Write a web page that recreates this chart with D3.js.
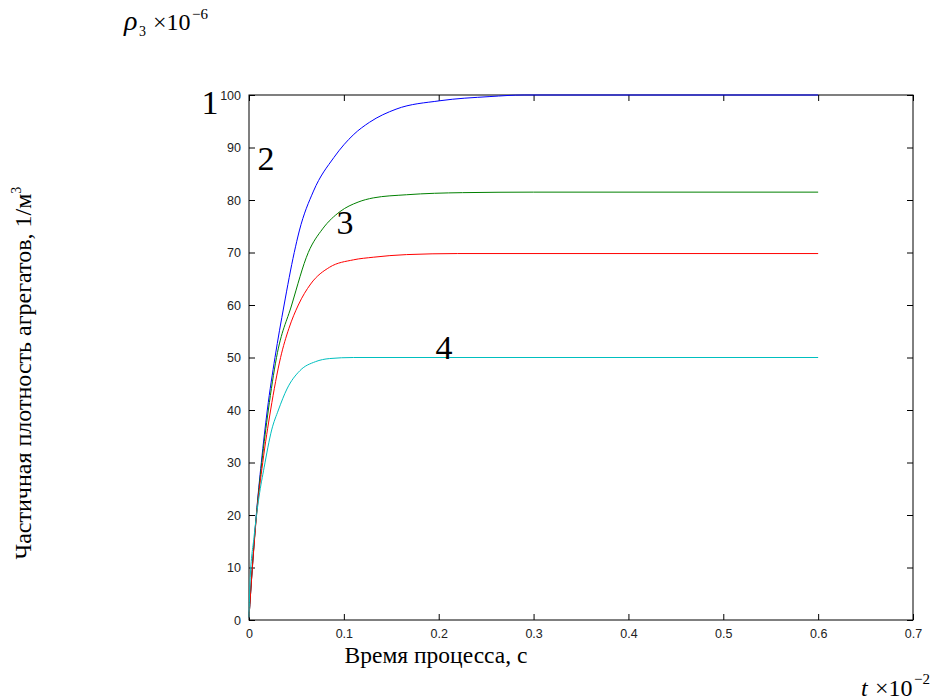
<!DOCTYPE html>
<html><head><meta charset="utf-8">
<script src="https://cdn.jsdelivr.net/npm/d3@7"></script>
<style>body{margin:0;background:#fff}svg{display:block}</style>
</head><body>
<script>
// Data (t in units of 1e-2 s, ρ3 ×1e-6)
const curve1T = [0,0.0035,0.0077,0.013,0.0193,0.0274,0.037,0.0477,0.053,0.068,0.0895,0.1105,0.127,0.155,0.201,0.254,0.29,0.6];
const curve1V = [0.5,10,20,30,40,50,60,70,74.1,81.7,88.1,92.5,94.8,97.3,98.9,99.7,100,100];
const curve3T = [0,0.0035,0.0078,0.0135,0.0204,0.029,0.045,0.0625,0.0776,0.096,0.115,0.131,0.166,0.225,0.3,0.6];
const curve3V = [0.5,10,20,30,40,50,60,70,74.5,77.8,79.6,80.4,81.0,81.4,81.5,81.5];
const curve2T = [0,0.0036,0.008,0.0145,0.0228,0.0333,0.042,0.052,0.065,0.085,0.11,0.131,0.166,0.22,0.6];
const curve2V = [0.5,10,20,30,40,50,55.5,60,64,67.2,68.6,69.1,69.6,69.8,69.8];
const curve4T = [0,0.001,0.0053,0.0105,0.016,0.0239,0.031,0.04,0.0537,0.07,0.085,0.11,0.6];
const curve4V = [0.5,7,15.8,23.4,29.1,36.2,40,44,47.5,49.2,49.8,50,50];
const seriesColors = ["#0000ff","#008000","#ff0000","#00bfbf"];
const xTicks = [0,0.1,0.2,0.3,0.4,0.5,0.6,0.7];
const yTicks = [0,10,20,30,40,50,60,70,80,90,100];
const curveLabels = ["1","2","3","4"];

const W = 936, H = 700;
const pL = 249, pR = 913, pT = 95, pB = 620;
const svg = d3.select("body").append("svg").attr("width", W).attr("height", H);
const x = d3.scaleLinear().domain([0,0.7]).range([pL,pR]);
const y = d3.scaleLinear().domain([0,100]).range([pB,pT]);

svg.append("rect").attr("x",pL).attr("y",pT).attr("width",pR-pL).attr("height",pB-pT)
  .attr("fill","none").attr("stroke","#000").attr("stroke-width",1);

const tickFont = "Liberation Sans, Arial, sans-serif";
const xa = svg.append("g").attr("transform",`translate(0,${pB})`)
  .call(d3.axisBottom(x).tickValues(xTicks).tickSize(-6).tickPadding(9).tickFormat(d=>d3.format("")(d)));
const xt = svg.append("g").attr("transform",`translate(0,${pT})`)
  .call(d3.axisTop(x).tickValues(xTicks).tickSize(-6).tickFormat(""));
const ya = svg.append("g").attr("transform",`translate(${pL},0)`)
  .call(d3.axisLeft(y).tickValues(yTicks).tickSize(-6).tickPadding(8));
const yr = svg.append("g").attr("transform",`translate(${pR},0)`)
  .call(d3.axisRight(y).tickValues(yTicks).tickSize(-6).tickFormat(""));
[xa,xt,ya,yr].forEach(g=>{
  g.select(".domain").remove();
  g.selectAll(".tick line").attr("stroke","#000");
  g.selectAll("text").attr("font-family",tickFont).attr("font-size",12.5).attr("fill","#222");
});

const line = d3.line().x(d=>x(d[0])).y(d=>y(d[1])).curve(d3.curveMonotoneX);
const data = [
  d3.zip(curve1T,curve1V),
  d3.zip(curve3T,curve3V),
  d3.zip(curve2T,curve2V),
  d3.zip(curve4T,curve4V)
];
data.forEach((d,i)=>{
  svg.append("path").datum(d).attr("d",line).attr("fill","none")
    .attr("stroke",seriesColors[i]).attr("stroke-width",1);
});

const serif = "Liberation Serif, Times New Roman, serif";
const labelPos = [[210,114],[266,170],[345,234],[444,359]];
curveLabels.forEach((t,i)=>{
  svg.append("text").attr("x",labelPos[i][0]).attr("y",labelPos[i][1]).attr("text-anchor","middle")
    .attr("font-family",serif).attr("font-size",34).text(t);
});

svg.append("text").attr("transform","translate(31,373) rotate(-90)").attr("text-anchor","middle")
  .attr("font-family",serif).attr("font-size",24)
  .call(t=>{t.append("tspan").text("Частичная плотность агрегатов, 1/м");
            t.append("tspan").attr("font-size",14).attr("dy",-10).text("3");});
svg.append("text").attr("x",436).attr("y",663).attr("text-anchor","middle")
  .attr("font-family",serif).attr("font-size",23.5).text("Время процесса, с");

const rt = svg.append("text").attr("font-family",serif).attr("font-size",24);
rt.append("tspan").attr("x",124).attr("y",30).attr("font-style","italic").attr("font-size",28).text("ρ");
rt.append("tspan").attr("x",139).attr("y",36).attr("font-size",14).text("3");
rt.append("tspan").attr("x",153).attr("y",30).text("×10");
rt.append("tspan").attr("x",192).attr("y",19).attr("font-size",15).text("−6");

const tt = svg.append("text").attr("font-family",serif).attr("font-size",24);
tt.append("tspan").attr("x",861).attr("y",696).attr("font-style","italic").text("t");
tt.append("tspan").attr("x",875).attr("y",696).text("×10");
tt.append("tspan").attr("x",914).attr("y",684).attr("font-size",15).text("−2");
</script>
</body></html>
